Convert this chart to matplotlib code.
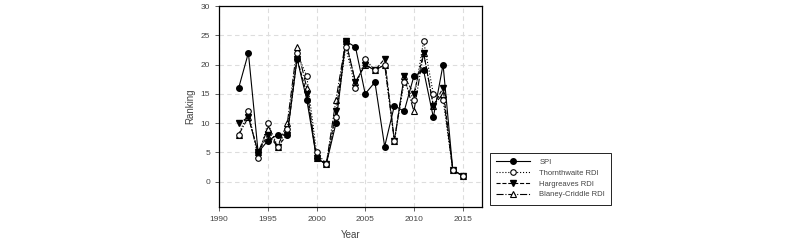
import matplotlib
matplotlib.use("Agg")
import matplotlib.pyplot as plt

years = list(range(1992, 2016))
spi = [16, 22, 5, 7, 8, 8, 21, 14, 4, 3, 10, 24, 23, 15, 17, 6, 13, 12, 18, 19, 11, 20, 2, 1]
thorn = [8, 12, 4, 10, 6, 9, 22, 18, 5, 3, 11, 23, 16, 21, 19, 20, 7, 17, 14, 24, 15, 14, 2, 1]
harg = [10, 11, 5, 8, 6, 8, 21, 15, 4, 3, 12, 24, 17, 20, 19, 21, 7, 18, 15, 22, 13, 16, 2, 1]
blaney = [8, 11, 5, 9, 6, 10, 23, 16, 4, 3, 14, 24, 17, 20, 19, 20, 7, 18, 12, 22, 13, 15, 2, 1]
xticks = [1990, 1995, 2000, 2005, 2010, 2015]
yticks = [0, 5, 10, 15, 20, 25, 30]

plt.rcParams['font.family'] = ['Liberation Sans', 'DejaVu Sans']
fig = plt.figure(figsize=(8.0, 2.42), dpi=100)
ax = fig.add_axes([0.274, 0.143, 0.3285, 0.832])

lw = 0.8
ms = 4
ax.plot(years, spi, '-', color='black', lw=lw, marker='o', ms=ms, mfc='black', mec='black', label='SPI', zorder=4)
ax.plot(years, thorn, ':', color='black', lw=lw, marker='o', ms=ms, mfc='white', mec='black', mew=0.8, label='Thornthwaite RDI', zorder=5)
ax.plot(years, harg, '--', color='black', lw=lw, marker='v', ms=ms, mfc='black', mec='black', label='Hargreaves RDI', zorder=3)
ax.plot(years, blaney, '-.', color='black', lw=lw, marker='^', ms=ms, mfc='white', mec='black', mew=0.8, label='Blaney-Criddle RDI', zorder=2)

ax.set_xlim(1990, 2017)
ax.set_ylim(-4.4, 30)
ax.set_xticks(xticks)
ax.set_yticks(yticks)
ax.grid(True, color='#dddddd', linestyle=(0, (4, 3)), lw=0.8)
ax.set_axisbelow(True)
ax.tick_params(labelsize=6, colors='#444444', length=3, width=0.6)
for s in ax.spines.values():
    s.set_linewidth(0.9)
ax.set_xlabel('Year', fontsize=7, color='#444444', labelpad=5)
ax.set_ylabel('Ranking', fontsize=7, color='#444444', labelpad=4)

leg = ax.legend(loc='lower left', bbox_to_anchor=(1.015, -0.005), fontsize=5.5, frameon=True,
                fancybox=False, edgecolor='black', framealpha=1, handlelength=4.5,
                labelspacing=0.45, borderpad=0.8, handletextpad=1.2)
leg.get_frame().set_linewidth(0.6)
for t in leg.get_texts():
    t.set_color('#444444')

fig.savefig('out.png', dpi=100)
